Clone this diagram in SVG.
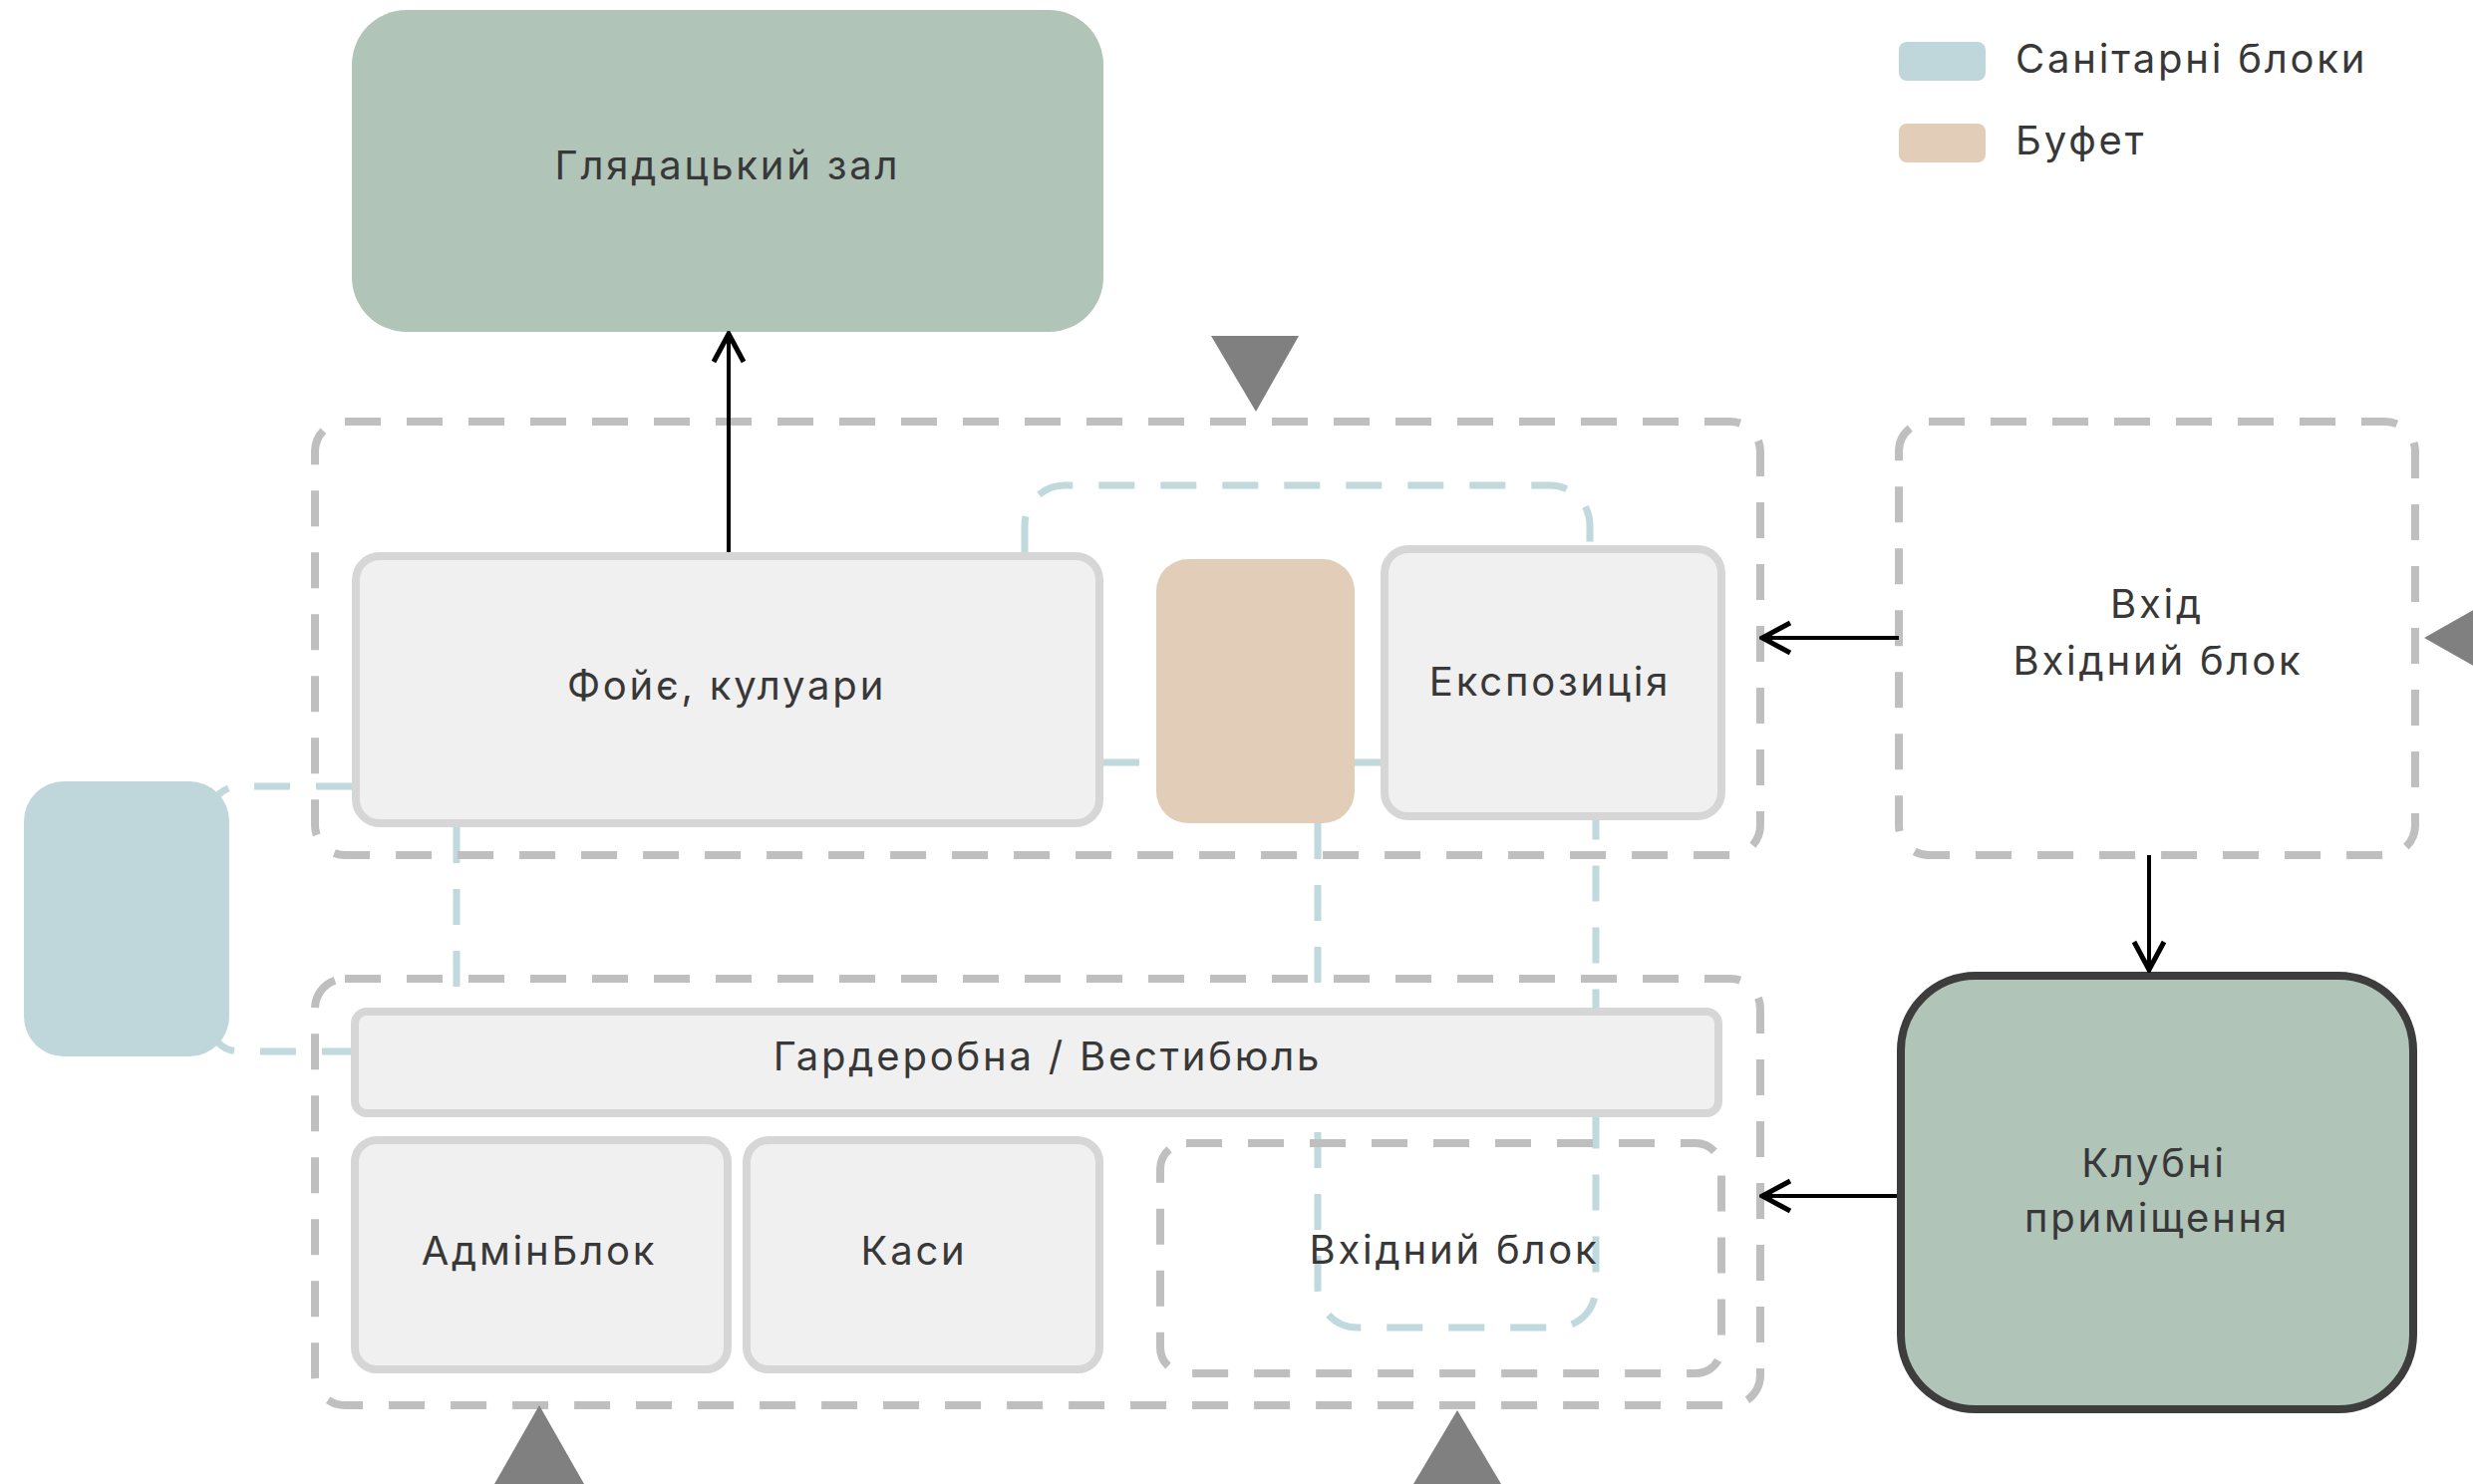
<svg xmlns="http://www.w3.org/2000/svg" width="2481" height="1489" viewBox="0 0 2481 1489">
<style>
.grp{fill:none;stroke:#bfbfbf;stroke-width:8;stroke-dasharray:36 26}
.san{fill:none;stroke:#c0d9dd;stroke-width:7;stroke-dasharray:36 26}
.box{fill:#f0f0f0;stroke:#d6d6d6;stroke-width:8}
.green{fill:#b0c4b8}
.t{font-family:Inter,"Noto Sans",sans-serif;font-size:40px;fill:#383838;letter-spacing:2.8px;text-anchor:middle}
.lt{font-family:Inter,"Noto Sans",sans-serif;font-size:40px;fill:#383838;letter-spacing:2.8px}
.tri{fill:#808080}
.arr{fill:none;stroke:#000;stroke-width:4}
</style>
<defs>
<marker id="ah" viewBox="0 0 34 36" refX="31" refY="18" markerWidth="34" markerHeight="36" markerUnits="userSpaceOnUse" orient="auto">
<path d="M3,3 L31,18 L3,33" fill="none" stroke="#000" stroke-width="5"/>
</marker>
</defs>
<rect width="2481" height="1489" fill="#fff"/>

<g id="sanitary-links">
<path class="san" d="M1028,554 V527 A40,40 0 0 1 1068,487 H1555 A40,40 0 0 1 1595,527 V547"/>
<path class="san" d="M1107,765 H1385"/>
<path class="san" d="M353,789 H240 A30,30 0 0 0 210,819 V1025 A30,30 0 0 0 240,1055 H352"/>
<path class="san" d="M458,830 V1011"/>
<path class="san" d="M1322,826 V1292 A40,40 0 0 0 1362,1332 H1561 A40,40 0 0 0 1601,1292 V823"/>
</g>

<g id="group-upper"><rect class="grp" x="316" y="423" width="1450" height="435" rx="30"/></g>
<g id="group-lower"><rect class="grp" x="316" y="982" width="1450" height="428" rx="30"/></g>

<g id="hall"><rect class="green" x="353" y="10" width="754" height="323" rx="55"/><text class="t" x="730" y="180">Глядацький зал</text></g>
<g id="foyer"><rect class="box" x="357" y="558" width="746" height="268" rx="24"/><text class="t" x="729" y="702">Фойє, кулуари</text></g>
<g id="buffet"><rect x="1160" y="561" width="199" height="265" rx="32" fill="#e2cdb9"/></g>
<g id="expo"><rect class="box" x="1389" y="551" width="338" height="268" rx="24"/><text class="t" x="1555" y="698">Експозиція</text></g>
<g id="entry"><rect class="grp" x="1905" y="423" width="518" height="435" rx="30"/><text class="t" x="2164" y="620">Вхід</text><text class="t" x="2165" y="677">Вхідний блок</text></g>
<g id="sanitary"><rect x="24" y="784" width="206" height="276" rx="40" fill="#bfd7db"/></g>
<g id="wardrobe"><rect class="box" x="356" y="1015" width="1368" height="102" rx="12"/><text class="t" x="1051" y="1074">Гардеробна / Вестибюль</text></g>
<g id="admin"><rect class="box" x="356" y="1144" width="374" height="230" rx="22"/><text class="t" x="541" y="1269">АдмінБлок</text></g>
<g id="kasy"><rect class="box" x="749" y="1144" width="354" height="230" rx="22"/><text class="t" x="917" y="1269">Каси</text></g>
<g id="entry-inner"><rect class="grp" x="1164" y="1147" width="563" height="231" rx="26"/><text class="t" x="1459" y="1268">Вхідний блок</text></g>
<g id="club"><rect class="green" x="1907" y="979" width="514" height="435" rx="75" stroke="#3d3d3d" stroke-width="8"/><text class="t" x="2161" y="1181">Клубні</text><text class="t" x="2164" y="1236">приміщення</text></g>

<g id="legend">
<rect x="1905" y="42" width="87" height="39" rx="8" fill="#bfd7db"/><text class="lt" x="2022" y="73">Санітарні блоки</text>
<rect x="1905" y="124" width="87" height="39" rx="8" fill="#e2cdb9"/><text class="lt" x="2022" y="155">Буфет</text>
</g>

<g id="markers">
<polygon class="tri" points="1215,337 1303,337 1260,413"/>
<polygon class="tri" points="2432,640 2510,596 2510,684"/>
<polygon class="tri" points="541,1410 496,1489 586,1489"/>
<polygon class="tri" points="1462,1415 1418,1489 1506,1489"/>
</g>

<g id="connectors">
<path class="arr" d="M731,554 V335" marker-end="url(#ah)"/>
<path class="arr" d="M1905,640 H1768" stroke-width="5" marker-end="url(#ah)"/>
<path class="arr" d="M2156,858 V973" marker-end="url(#ah)"/>
<path class="arr" d="M1903,1200 H1768" stroke-width="5" marker-end="url(#ah)"/>
</g>
</svg>
